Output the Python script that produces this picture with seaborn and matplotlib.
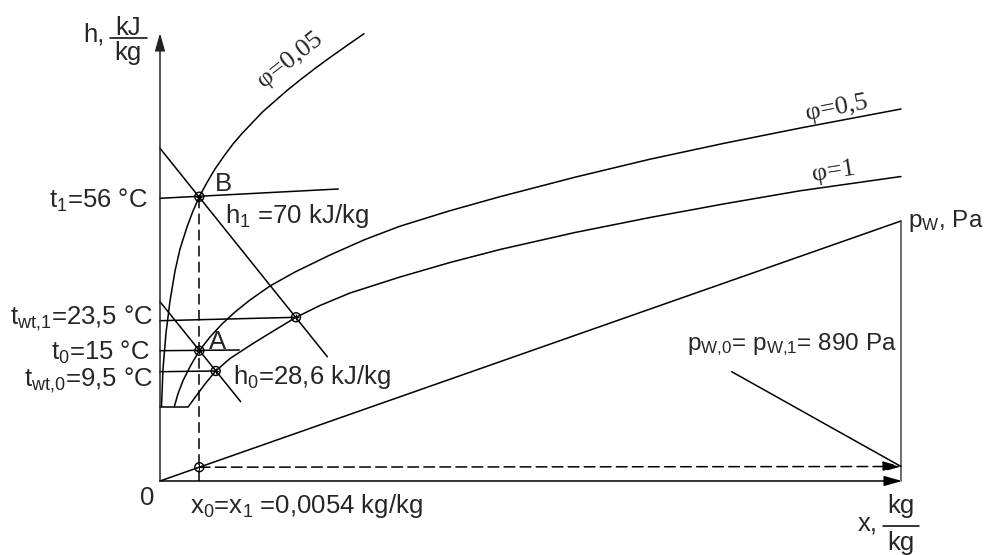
import matplotlib
matplotlib.use("Agg")
import matplotlib.pyplot as plt
import seaborn as sns
import pandas as pd

# ---------------- data (schematic h-x diagram, drawing units) ----------------
# relative humidity curves
phi_005_x = [1.5, 3, 6, 10, 15, 20, 27, 33, 39.3, 47, 55, 64, 73, 82, 92, 103,
             115, 127, 140, 155, 170, 187, 204]
phi_005_h = [74.3, 112, 148, 180, 210, 232, 254, 270, 284.3, 298.5, 312, 325,
             337, 347.5, 358, 369.5, 380, 390.5, 401, 412.5, 423.5, 435.5, 447.3]
phi_05_x = [14.3, 18, 23, 30, 39.3, 50, 62, 75, 90, 110, 135, 170, 205, 240,
            290, 340, 415, 490, 565, 640, 741]
phi_05_h = [74.3, 87.3, 100.3, 114.3, 130.3, 144, 157, 169, 181, 195, 209,
            226, 241.5, 254.8, 270.3, 284.3, 303.8, 321.8, 337.9, 352.9, 372]
phi_1_x = [28.3, 35, 45, 55.7, 70, 93, 115, 136, 160, 190, 240, 290, 340,
           415, 490, 565, 640, 741]
phi_1_h = [74.3, 83.5, 97, 110, 122.5, 137.5, 151, 163.7, 175.5, 188, 204,
           218.5, 231.5, 248.5, 263.5, 277.3, 290.2, 304.5]
phi_labels = ["φ=0,05", "φ=0,5", "φ=1"]

# partial pressure line p_W(x)
pw_x = [0, 741]
pw_h = [0, 260]

# straight construction lines (x-pairs, h-pairs)
h1_line_x = [0, 167.3]
h1_line_h = [332.7, 124.3]
h0_line_x = [0, 80.7]
h0_line_h = [179.3, 79.3]
t1_line_x = [0, 178.3]
t1_line_h = [282.7, 292]
twt1_line_x = [0, 136]
twt1_line_h = [160.3, 163.7]
t0_line_x = [0, 79.3]
t0_line_h = [130.3, 131]
twt0_line_x = [0, 55.7]
twt0_line_h = [109.3, 110]
ice_line_x = [0, 28.3]
ice_line_h = [74.3, 74.3]

# state points: B, A, wet-bulb 0, wet-bulb 1, p_W point
pts_x = [39.3, 39.3, 55.7, 136, 39.3]
pts_h = [284.3, 130.3, 110, 163.7, 13.8]

# axis extents
x_axis_end = 742
h_axis_end = 448

# labels
state_labels = ["B", "A"]
left_labels = [r"$\mathrm{t_1}$=56 °C", r"$\mathrm{t_{wt{,}1}}$=23,5 °C",
               r"$\mathrm{t_0}$=15 °C", r"$\mathrm{t_{wt{,}0}}$=9,5 °C"]
h_labels = [r"$\mathrm{h_1}$ =70 kJ/kg", r"$\mathrm{h_0}$=28,6 kJ/kg"]
x_label_txt = r"$\mathrm{x_0}$=$\mathrm{x_1}$ =0,0054 kg/kg"
pw_label_txt = r"$\mathrm{p_{W{,}0}}$= $\mathrm{p_{W{,}1}}$= 890 Pa"

# ---------------- style ----------------
sns.set_theme(style="white")
plt.rcParams["font.family"] = ["Liberation Sans", "DejaVu Sans"]
plt.rcParams["mathtext.fontset"] = "custom"
plt.rcParams["mathtext.rm"] = "Liberation Sans"
plt.rcParams["mathtext.it"] = "Liberation Sans"
plt.rcParams["mathtext.bf"] = "Liberation Sans:bold"

FS = 18.5
FS_P = 17.5
SERIF = ["Liberation Serif", "DejaVu Serif"]
LW = 1.1
K = "black"

fig = plt.figure(figsize=(9.87, 5.55), dpi=100)
ax = fig.add_axes([0, 0, 1, 1])
ax.set_xlim(-160, 827)
ax.set_ylim(-74, 481)
ax.axis("off")


def line(xs, hs, **kw):
    d = pd.DataFrame({"x": xs, "h": hs})
    sns.lineplot(data=d, x="x", y="h", sort=False, estimator=None,
                 color=kw.pop("color", K), lw=kw.pop("lw", LW), ax=ax, **kw)


# curves
line(phi_005_x, phi_005_h)
line(phi_05_x, phi_05_h)
line(phi_1_x, phi_1_h)
line(pw_x, pw_h)

# construction lines
for xs, hs in [(h1_line_x, h1_line_h), (h0_line_x, h0_line_h),
               (t1_line_x, t1_line_h), (twt1_line_x, twt1_line_h),
               (t0_line_x, t0_line_h), (twt0_line_x, twt0_line_h),
               (ice_line_x, ice_line_h)]:
    line(xs, hs)

# right vertical (p_W scale)
line([pw_x[1], pw_x[1]], [0, pw_h[1]], color="#444444")

# dashed x0 line
line([pts_x[0], pts_x[0]], [0, pts_h[0]], linestyle=(0, (7, 3.5)))

arrow_kw = dict(arrowstyle="-|>,head_length=0.6,head_width=0.17",
                mutation_scale=18, color=K, lw=LW, shrinkA=0, shrinkB=0)
# axes with arrows
ax.annotate("", xy=(x_axis_end, 0), xytext=(0, 0), arrowprops=arrow_kw)
ax.annotate("", xy=(0, h_axis_end), xytext=(0, 0),
            arrowprops=dict(arrow_kw, color="#222222"))
# dashed arrow to p_W scale
ax.annotate("", xy=(pw_x[1], pts_h[4] + 0.7), xytext=(pts_x[4], pts_h[4]),
            arrowprops=dict(arrow_kw, linestyle=(0, (7, 3.5))))
# pointer from label
ax.annotate("", xy=(pw_x[1], pts_h[4] + 0.7), xytext=(571.7, 109.3),
            arrowprops=dict(arrowstyle="-", color=K, lw=LW, shrinkA=0, shrinkB=0))

# state point markers
sns.scatterplot(x=pts_x, y=pts_h, marker="o", s=42, facecolor="none",
                edgecolor=K, linewidth=1.0, ax=ax, zorder=5)
sns.scatterplot(x=pts_x, y=pts_h, marker="+", s=20, color=K,
                linewidth=0.8, ax=ax, zorder=6)

# ---------------- texts ----------------
ax.text(55, 290.3, state_labels[0], fontsize=FS, va="baseline", ha="left")
ax.text(49.3, 131.7, state_labels[1], fontsize=FS, va="baseline", ha="left")

left_pos = [(-12, 272.7), (-7, 157), (-10, 121), (-7, 94.3)]
for txt, (px, py) in zip(left_labels, left_pos):
    ax.text(px, py, txt, fontsize=FS, ha="right", va="baseline")

ax.text(65, 258, h_labels[0], fontsize=FS, ha="left", va="baseline")
ax.text(72.7, 97, h_labels[1], fontsize=FS, ha="left", va="baseline")

ax.text(-13, -24, "0", fontsize=FS, ha="center", va="baseline")
ax.text(30, -32, x_label_txt, fontsize=FS, ha="left", va="baseline")
ax.text(527, 131, pw_label_txt, fontsize=FS_P, ha="left", va="baseline")
ax.text(748, 254.3, r"$\mathrm{p_W}$, Pa", fontsize=FS_P, ha="left", va="baseline")

# x axis label  x, kg/kg
ax.text(698, -50, "x,", fontsize=FS, ha="left", va="baseline")
ax.text(741, -32, "kg", fontsize=FS, ha="center", va="baseline")
ax.text(741, -69, "kg", fontsize=FS, ha="center", va="baseline")
ax.plot([722.7, 759.3], [-45, -45], color=K, lw=LW)

# h axis label  h, kJ/kg
ax.text(-77, 439.3, "h,", fontsize=FS, ha="left", va="baseline")
ax.text(-31.7, 446, "kJ", fontsize=FS, ha="center", va="baseline")
ax.text(-31.7, 421, "kg", fontsize=FS, ha="center", va="baseline")
ax.plot([-50, -13.3], [442.7, 442.7], color=K, lw=LW)

# phi labels
ax.text(130, 421, phi_labels[0], fontsize=19, family=SERIF, rotation=38,
        ha="center", va="center", rotation_mode="anchor")
ax.text(677, 373, phi_labels[1], fontsize=19, family=SERIF, rotation=11,
        ha="center", va="center", rotation_mode="anchor")
ax.text(674, 309, phi_labels[2], fontsize=19, family=SERIF, rotation=9,
        ha="center", va="center", rotation_mode="anchor")

fig.savefig("out.png", dpi=100)
